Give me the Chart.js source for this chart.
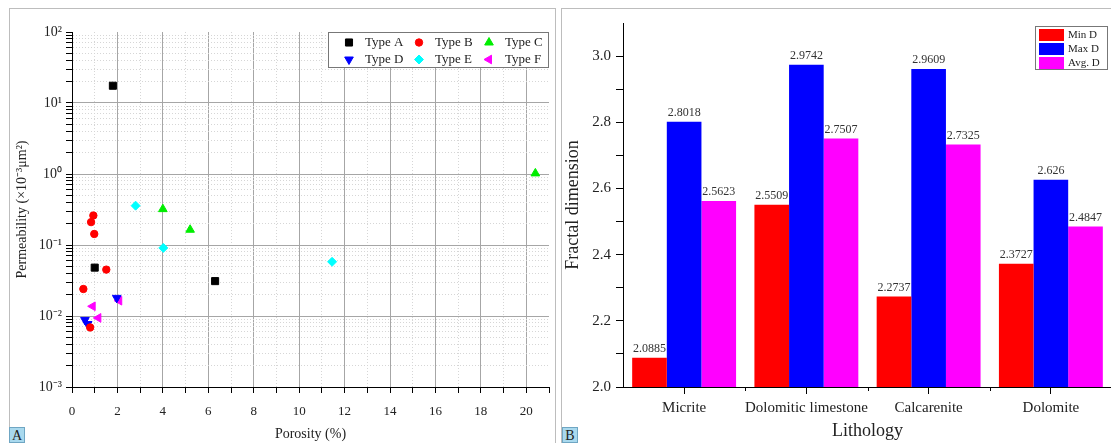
<!DOCTYPE html>
<html>
<head>
<meta charset="utf-8">
<script src="https://cdn.jsdelivr.net/npm/chart.js@4/dist/chart.umd.min.js"></script>
<style>
  html, body { margin: 0; padding: 0; background: #fff; overflow: hidden; width: 1111px; height: 443px; }
  .panel { position: absolute; border: 1px solid #bdbdbd; box-sizing: border-box; }
  canvas { position: absolute; }
  .tag {
    position: absolute; width: 16px; height: 16px; box-sizing: border-box;
    background: #a9d9ee; border: 1px solid #6fa6c3;
    font: 14px 'Liberation Serif', serif; color: #222; text-align: center; line-height: 15px;
  }
</style>
</head>
<body>
<div class="panel" style="left:9px;top:8px;width:547px;height:460px"></div>
<div class="panel" style="left:561px;top:8px;width:560px;height:460px"></div>
<canvas id="scatterChart" width="546" height="434" style="left:10px;top:9px"></canvas>
<canvas id="barChart" width="552" height="434" style="left:562px;top:9px"></canvas>
<div class="tag" style="left:9px;top:427px">A</div>
<div class="tag" style="left:562px;top:427px">B</div>
<script>
'use strict';

const serif = "'Liberation Serif', 'Times New Roman', serif";

// Panel A data: porosity (%) and permeability (x10^-3 um^2)
const typeAPorosity = [1.8, 1.0, 6.3];
const typeAPerm = [17.5, 0.048, 0.031];
const typeBPorosity = [0.94, 0.84, 0.98, 1.51, 0.5, 0.8];
const typeBPerm = [0.26, 0.21, 0.143, 0.045, 0.024, 0.0069];
const typeCPorosity = [4.0, 5.2, 20.4];
const typeCPerm = [0.32, 0.164, 1.02];
const typeDPorosity = [0.57, 0.69, 1.97];
const typeDPerm = [0.0088, 0.0077, 0.018];
const typeEPorosity = [2.8, 4.02, 11.45];
const typeEPerm = [0.358, 0.091, 0.058];
const typeFPorosity = [0.91, 1.16, 2.08];
const typeFPerm = [0.0137, 0.0094, 0.0164];

const yTickValues = [0.001, 0.01, 0.1, 1, 10, 100];
const yTickLabels = ['10⁻³', '10⁻²', '10⁻¹', '10⁰', '10¹', '10²'];

// Panel B data
const lithologies = ['Micrite', 'Dolomitic limestone', 'Calcarenite', 'Dolomite'];
const minD = [2.0885, 2.5509, 2.2737, 2.3727];
const maxD = [2.8018, 2.9742, 2.9609, 2.626];
const avgD = [2.5623, 2.7507, 2.7325, 2.4847];


const zip = (xs, ys) => xs.map((x, i) => ({ x, y: ys[i] }));

const pointSet = (label, xs, ys, color, style, rotation, radius) => ({
  label,
  data: zip(xs, ys),
  backgroundColor: color,
  borderColor: color,
  borderWidth: 1,
  pointStyle: style,
  rotation: rotation,
  pointRadius: radius,
  pointHoverRadius: radius,
});

// minor log ticks 1..9 for every decade
const logGrid = [];
for (let e = -3; e <= 1; e++) {
  for (let k = 1; k <= 9; k++) logGrid.push(Number((k * Math.pow(10, e)).toPrecision(6)));
}
logGrid.push(100);

const isDecade = (v) => Math.abs(Math.log10(v) - Math.round(Math.log10(v))) < 1e-6;

// Legend box for panel A (2 rows x 3 columns)
const scatterLegend = {
  id: 'scatterLegend',
  afterDraw(chart) {
    const { ctx, chartArea } = chart;
    const boxW = 220, boxH = 35;
    const left = chartArea.right - 1 - boxW, top = chartArea.top;
    ctx.save();
    ctx.fillStyle = '#fff';
    ctx.fillRect(left, top, boxW, boxH);
    ctx.strokeStyle = '#777';
    ctx.lineWidth = 1;
    ctx.strokeRect(left + 0.5, top + 0.5, boxW, boxH);
    ctx.font = '13px ' + serif;
    ctx.textBaseline = 'middle';
    ctx.fillStyle = '#222';
    chart.data.datasets.forEach((ds, i) => {
      const col = i % 3, row = Math.floor(i / 3);
      const cx = left + 21 + col * 70;
      const cy = top + 10.5 + row * 17;
      ctx.fillStyle = ds.backgroundColor;
      ctx.strokeStyle = ds.borderColor;
      Chart.helpers.drawPoint(ctx, {
        pointStyle: ds.pointStyle, rotation: ds.rotation, radius: ds.pointRadius, borderWidth: 1,
      }, cx, cy);
      ctx.fillStyle = '#222';
      ctx.fillText(ds.label, cx + 16, cy + 0.5);
    });
    ctx.restore();
  }
};

new Chart(document.querySelector('#scatterChart'), {
  type: 'scatter',
  data: {
    datasets: [
      pointSet('Type A', typeAPorosity, typeAPerm, '#000000', 'rect', 0, 5),
      pointSet('Type B', typeBPorosity, typeBPerm, '#ff0000', 'circle', 0, 3.7),
      pointSet('Type C', typeCPorosity, typeCPerm, '#00ee00', 'triangle', 0, 5),
      pointSet('Type D', typeDPorosity, typeDPerm, '#0000ff', 'triangle', 180, 5),
      pointSet('Type E', typeEPorosity, typeEPerm, '#00ffff', 'rectRot', 0, 4.5),
      pointSet('Type F', typeFPorosity, typeFPerm, '#ff00ff', 'triangle', 270, 5),
    ],
  },
  options: {
    responsive: false,
    animation: false,
    devicePixelRatio: 1,
    layout: { padding: { left: 0, top: 23, right: 7, bottom: 0 } },
    plugins: { legend: { display: false }, tooltip: { enabled: false } },
    scales: {
      x: {
        type: 'linear',
        min: 0,
        max: 21,
        afterFit: (scale) => { scale.height = 56; },
        grid: {
          color: (c) => {
            if (!c.tick) return '#a6a6a6';
            const v = c.tick.value;
            if (v === 21) return 'rgba(0,0,0,0)';
            return v % 2 === 0 ? '#a6a6a6' : '#d6d6d6';
          },
          tickColor: '#000',
          tickLength: 6,
          lineWidth: 1,
        },
        border: {
          color: '#000',
          width: 1,
          dash: (c) => (c.tick && c.tick.value % 2 === 1 ? [1, 2] : []),
        },
        ticks: {
          stepSize: 1,
          autoSkip: false,
          maxRotation: 0,
          color: '#222',
          padding: 7,
          font: { family: serif, size: 13, lineHeight: 1.8 },
          callback: (v) => (v % 2 === 0 && v <= 20 ? v : ''),
        },
        title: {
          display: true,
          text: 'Porosity (%)',
          color: '#222',
          font: { family: serif, size: 14 },
          padding: { top: 0, bottom: 0 },
        },
      },
      y: {
        type: 'logarithmic',
        min: 0.001,
        max: 100,
        afterFit: (scale) => { scale.width = 62; },
        afterBuildTicks: (scale) => {
          scale.ticks = logGrid.map(v => ({ value: v, major: isDecade(v) }));
        },
        grid: {
          color: (c) => {
            if (!c.tick) return '#a6a6a6';
            const v = c.tick.value;
            if (v === 100) return 'rgba(0,0,0,0)';
            return isDecade(v) ? '#a6a6a6' : '#d6d6d6';
          },
          tickColor: '#000',
          tickLength: 6,
          lineWidth: 1,
        },
        border: {
          color: '#000',
          width: 1,
          dash: (c) => (c.tick && !isDecade(c.tick.value) ? [1, 2] : []),
        },
        ticks: {
          autoSkip: false,
          color: '#222',
          padding: 4,
          font: { family: serif, size: 14 },
          callback: (v) => {
            const i = yTickValues.findIndex(t => Math.abs(Math.log10(t) - Math.log10(v)) < 1e-6);
            return i >= 0 ? yTickLabels[i] : '';
          },
        },
        title: {
          display: true,
          text: 'Permeability (×10⁻³μm²)',
          color: '#222',
          font: { family: serif, size: 14 },
          padding: { top: 4, bottom: 0 },
        },
      },
    },
  },
  plugins: [scatterLegend],
});


// Value labels above bars, boundary ticks and boxed legend for panel B
const barExtras = {
  id: 'barExtras',
  afterDatasetsDraw(chart) {
    const { ctx } = chart;
    ctx.save();
    ctx.font = '12px ' + serif;
    ctx.fillStyle = '#333';
    ctx.textAlign = 'center';
    ctx.textBaseline = 'bottom';
    chart.data.datasets.forEach((ds, i) => {
      chart.getDatasetMeta(i).data.forEach((bar, j) => {
        ctx.fillText(String(ds.data[j]), bar.x, bar.y - 3);
      });
    });
    ctx.restore();
  },
  afterDraw(chart) {
    const { ctx, chartArea } = chart;
    const x = chart.scales.x;
    ctx.save();
    ctx.strokeStyle = '#000';
    ctx.lineWidth = 1;
    for (let i = 0; i < lithologies.length - 1; i++) {
      const px = Math.round((x.getPixelForValue(i) + x.getPixelForValue(i + 1)) / 2) + 0.5;
      ctx.beginPath();
      ctx.moveTo(px, chartArea.bottom);
      ctx.lineTo(px, chartArea.bottom + 4);
      ctx.stroke();
    }

    const boxW = 72, boxH = 43;
    const left = Math.round(chartArea.right - 5 - boxW), top = chartArea.top + 3;
    ctx.fillStyle = '#fff';
    ctx.fillRect(left, top, boxW, boxH);
    ctx.strokeStyle = '#777';
    ctx.strokeRect(left + 0.5, top + 0.5, boxW, boxH);
    ctx.font = '11px ' + serif;
    ctx.textBaseline = 'middle';
    chart.data.datasets.forEach((ds, i) => {
      const cy = top + 9 + i * 14;
      ctx.fillStyle = ds.backgroundColor;
      ctx.fillRect(left + 4, cy - 6, 25, 12);
      ctx.fillStyle = '#222';
      ctx.fillText(ds.label, left + 33, cy + 0.5);
    });
    ctx.restore();
  }
};

new Chart(document.querySelector('#barChart'), {
  type: 'bar',
  data: {
    labels: lithologies,
    datasets: [
      { label: 'Min D', data: minD, backgroundColor: '#ff0000' },
      { label: 'Max D', data: maxD, backgroundColor: '#0000ff' },
      { label: 'Avg. D', data: avgD, backgroundColor: '#ff00ff' },
    ],
  },
  options: {
    responsive: false,
    animation: false,
    devicePixelRatio: 1,
    layout: { padding: { left: 0, top: 11, right: 2, bottom: 0 } },
    datasets: { bar: { categoryPercentage: 0.85, barPercentage: 1.0, borderWidth: 0 } },
    plugins: { legend: { display: false }, tooltip: { enabled: false } },
    scales: {
      x: {
        type: 'category',
        offset: true,
        afterFit: (scale) => { scale.height = 56; },
        grid: { offset: false, drawOnChartArea: false, tickColor: '#000', tickLength: 7 },
        border: { color: '#000', width: 1 },
        ticks: {
          color: '#222',
          padding: 5,
          maxRotation: 0,
          autoSkip: false,
          font: { family: serif, size: 15 },
        },
        title: {
          display: true,
          text: 'Lithology',
          color: '#222',
          font: { family: serif, size: 18 },
          padding: { top: 0, bottom: 1 },
        },
      },
      y: {
        min: 2.0,
        max: 3.1,
        afterFit: (scale) => { scale.width = 61; },
        grid: {
          drawOnChartArea: false,
          tickLength: 7,
          tickColor: (c) => (c.tick && Math.round(c.tick.value * 10) > 30 ? 'rgba(0,0,0,0)' : '#000'),
        },
        border: { color: '#000', width: 1 },
        ticks: {
          stepSize: 0.1,
          autoSkip: false,
          color: '#222',
          padding: 5,
          font: { family: serif, size: 15 },
          callback: (v) => {
            const t = Math.round(v * 10);
            return t % 2 === 0 && t <= 30 ? v.toFixed(1) : '';
          },
        },
        title: {
          display: true,
          text: 'Fractal dimension',
          color: '#222',
          font: { family: serif, size: 18 },
          padding: { top: 0, bottom: 0 },
        },
      },
    },
  },
  plugins: [barExtras],
});
</script>
</body>
</html>
